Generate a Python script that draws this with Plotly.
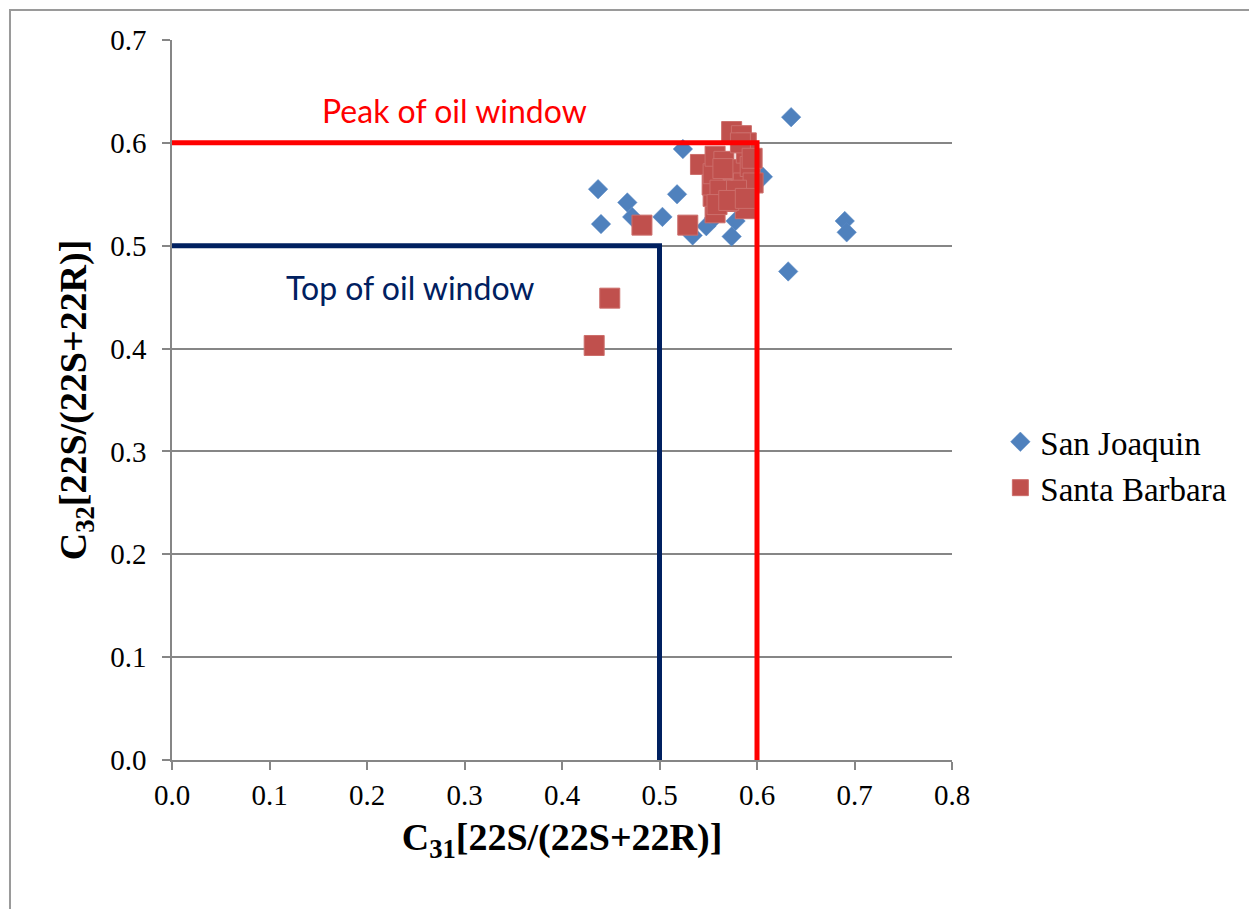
import plotly.graph_objects as go

# C31 vs C32 homohopane isomerisation ratios
sj_c31 = [0.635, 0.524, 0.437, 0.440, 0.467, 0.472, 0.503, 0.518, 0.534, 0.548,
          0.574, 0.578, 0.606, 0.632, 0.690, 0.692, 0.583, 0.556, 0.560, 0.570, 0.590]
sj_c32 = [0.625, 0.594, 0.555, 0.521, 0.542, 0.528, 0.528, 0.550, 0.510, 0.519,
          0.509, 0.524, 0.567, 0.475, 0.524, 0.513, 0.544, 0.527, 0.540, 0.556, 0.566]

sb_c31 = [0.574, 0.584, 0.589, 0.542, 0.482, 0.529, 0.557, 0.588, 0.569, 0.555,
          0.554, 0.555, 0.557, 0.566, 0.576, 0.586, 0.589, 0.593, 0.583, 0.596,
          0.562, 0.579, 0.449, 0.433, 0.559, 0.571, 0.595, 0.588, 0.565]
sb_c32 = [0.611, 0.607, 0.600, 0.579, 0.520, 0.520, 0.532, 0.536, 0.543, 0.548,
          0.559, 0.570, 0.587, 0.582, 0.574, 0.561, 0.590, 0.577, 0.600, 0.561,
          0.554, 0.554, 0.449, 0.403, 0.540, 0.544, 0.585, 0.546, 0.575]

# oil window thresholds
top_window = 0.5
peak_window = 0.6

serif = "Liberation Serif, Times New Roman, serif"
sans = "Lato, Carlito, sans-serif"

fig = go.Figure()

fig.add_trace(go.Scatter(
    x=sj_c31, y=sj_c32, mode="markers", name="San Joaquin",
    marker=dict(symbol="diamond", size=15, color="#4F81BD",
                line=dict(width=0.5, color="#5B8BC6")),
))
fig.add_trace(go.Scatter(
    x=sb_c31, y=sb_c32, mode="markers", name="Santa Barbara",
    marker=dict(symbol="square", size=20, color="#C0504D",
                line=dict(width=1, color="#CC6E6B")),
))

# threshold boxes
fig.add_trace(go.Scatter(
    x=[0, top_window, top_window], y=[top_window, top_window, 0],
    mode="lines", line=dict(color="#002060", width=5), showlegend=False,
    hoverinfo="skip",
))
fig.add_trace(go.Scatter(
    x=[0, peak_window, peak_window], y=[peak_window, peak_window, 0],
    mode="lines", line=dict(color="#FF0000", width=5), showlegend=False,
    hoverinfo="skip",
))

fig.add_annotation(x=0.290, y=0.631, xref="x", yref="y", text="Peak of oil window",
                   showarrow=False, font=dict(family=sans, size=32, color="#FF0000"))
fig.add_annotation(x=0.244, y=0.459, xref="x", yref="y", text="Top of oil window",
                   showarrow=False, font=dict(family=sans, size=32, color="#002060"))

# outer chart frame
fig.add_shape(type="rect", xref="paper", yref="paper",
              x0=-0.2077, y0=-1.0, x1=2.0, y1=1.0417,
              line=dict(color="#9A9A9A", width=2), fillcolor="rgba(0,0,0,0)")

fig.update_xaxes(
    range=[0, 0.8], dtick=0.1, tickformat=".1f",
    showgrid=False, zeroline=False,
    showline=True, linecolor="#868686", linewidth=1.5,
    ticks="outside", ticklen=8, tickcolor="#868686", tickwidth=1.5,
    tickfont=dict(family=serif, size=29, color="#000000"),
    title=dict(text="C<sub>31</sub>[22S/(22S+22R)]", standoff=14,
               font=dict(family=serif, size=38, color="#000000", weight="bold")),
)
fig.update_yaxes(
    range=[0, 0.7], dtick=0.1, tickformat=".1f",
    showgrid=True, gridcolor="#868686", gridwidth=1.5, zeroline=False,
    showline=True, linecolor="#868686", linewidth=1.5,
    ticks="outside", ticklen=8, tickcolor="#868686", tickwidth=1.5,
    ticklabelstandoff=10,
    tickfont=dict(family=serif, size=29, color="#000000"),
    title=dict(text="C<sub>32</sub>[22S/(22S+22R)]", standoff=12,
               font=dict(family=serif, size=38, color="#000000", weight="bold")),
)

fig.update_layout(
    width=1249, height=909,
    margin=dict(l=172, r=297, t=40, b=149, autoexpand=False),
    paper_bgcolor="#FFFFFF", plot_bgcolor="#FFFFFF",
    showlegend=True,
    legend=dict(x=1.062, y=0.41, xanchor="left", yanchor="middle",
                font=dict(family=serif, size=33, color="#000000"),
                itemsizing="trace", tracegroupgap=0, itemwidth=30,
                bgcolor="rgba(0,0,0,0)"),
)

fig.write_html("out.html")
